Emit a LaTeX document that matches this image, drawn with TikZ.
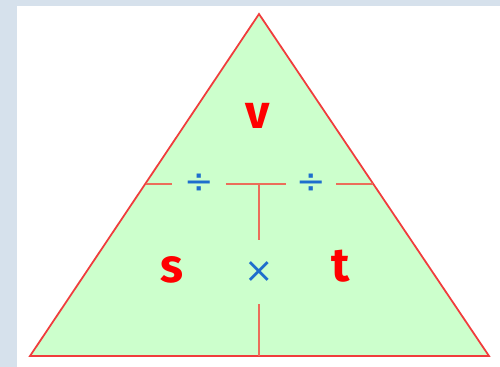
\documentclass[tikz,border=0pt]{standalone}
\usepackage{fontspec}
\setmainfont{Fira Sans}
\newfontfamily\opfont{DejaVu Sans}
\usepackage{xcolor}
\definecolor{frameblue}{RGB}{214,225,236}
\definecolor{trifill}{RGB}{204,255,204}
\definecolor{trired}{RGB}{240,60,60}
\definecolor{sepred}{RGB}{235,110,90}
\definecolor{letred}{RGB}{255,0,0}
\definecolor{opblue}{RGB}{30,110,205}
\tikzset{
  letter/.style={text=letred,font=\fontsize{27}{30}\selectfont\bfseries,inner sep=0pt},
  opsign/.style={text=opblue,font=\opfont\fontsize{20}{22}\selectfont,inner sep=0pt},
  sep/.style={draw=sepred,line width=0.7pt}
}

\begin{document}
\begin{tikzpicture}[x=0.02cm,y=-0.02cm]
\useasboundingbox (0,0) rectangle (500,367);
\fill[frameblue] (0,0) rectangle (500,6);
\fill[frameblue] (0,0) rectangle (17,367);
\fill[white] (17,6) rectangle (500,367);
% the triangle
\coordinate (apex) at (259,14);
\coordinate (bl) at (30,356);
\coordinate (br) at (489,356);
\draw[fill=trifill,draw=trired,line width=1pt] (apex) -- (bl) -- (br) -- cycle;
% cut points
\coordinate (lcut) at (145.5,184);
\coordinate (rcut) at (373,184);
\coordinate (mid) at (259,184);
\coordinate (foot) at (259,356);
% operators
\node[opsign,minimum width=1.06cm] (divl) at (199,184) {÷};
\node[opsign,minimum width=1.0cm] (divr) at (311,184) {÷};
\node[opsign,minimum height=1.28cm] (times) at (259,272) {×};
\draw[sep] (lcut) -- (divl);
\draw[sep] (divl) -- (divr);
\draw[sep] (divr) -- (rcut);
\draw[sep] (mid) -- (times);
\draw[sep] (times) -- (foot);
% quantities
\node[letter] (v) at (258,116) {v};
\node[letter] (s) at (172,270) {s};
\node[letter] (t) at (341,266) {t};
\end{tikzpicture}
\end{document}
